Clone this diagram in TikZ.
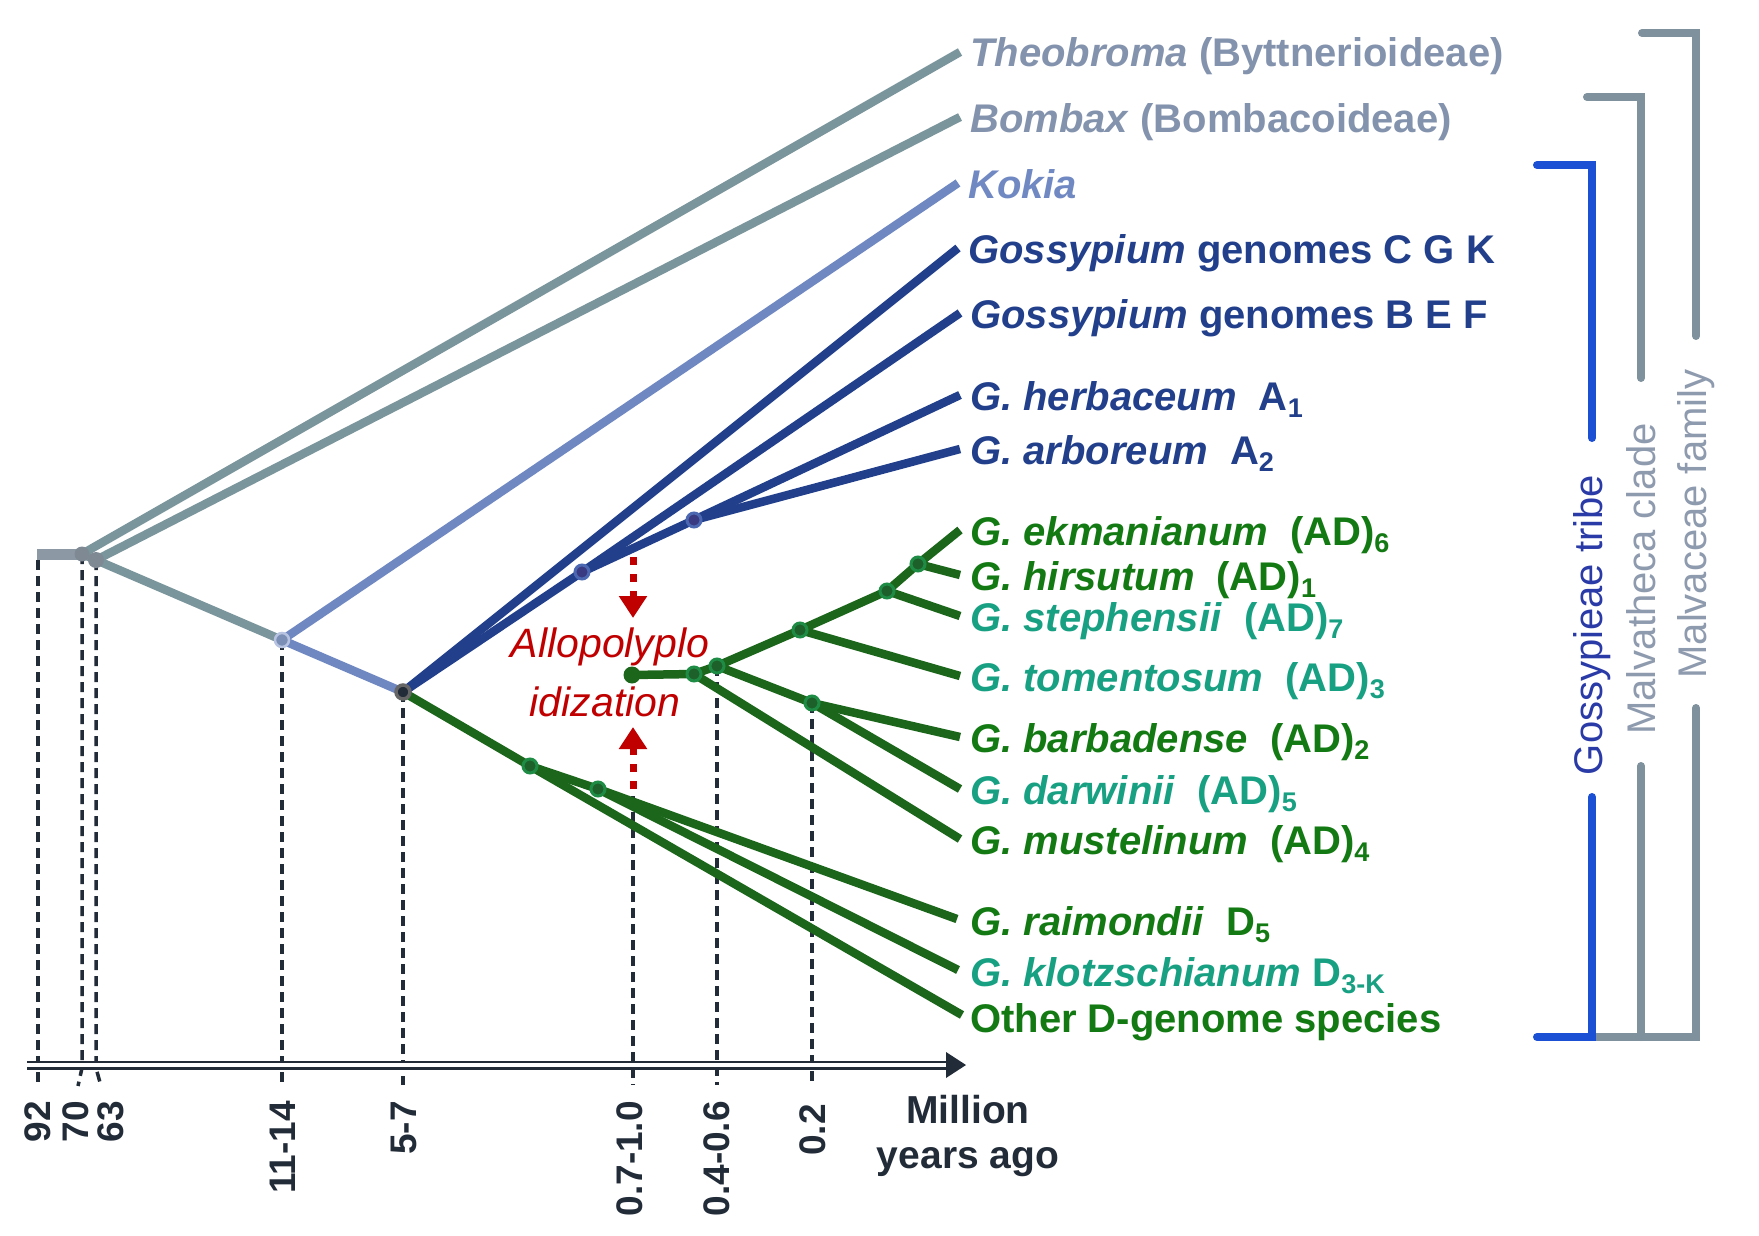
\documentclass[tikz,border=0pt]{standalone}
\usepackage{fontspec}
\setmainfont{Liberation Sans}
\usetikzlibrary{arrows.meta}
\definecolor{cTheoT}{HTML}{8493AD}
\definecolor{cGrayL}{HTML}{7B959C}
\definecolor{cRoot}{HTML}{8C98A4}
\definecolor{cKokL}{HTML}{7088C2}
\definecolor{cKokT}{HTML}{7189C3}
\definecolor{cBlue}{HTML}{213F8B}
\definecolor{cGreenL}{HTML}{1B661B}
\definecolor{cGreenT}{HTML}{137A13}
\definecolor{cTeal}{HTML}{18A083}
\definecolor{cRed}{HTML}{C00000}
\definecolor{cAxis}{HTML}{222B38}
\definecolor{cBrB}{HTML}{1C50D4}
\definecolor{cBrG}{HTML}{7E919D}
\definecolor{cBrT}{HTML}{8E9AAE}
\definecolor{cTribe}{HTML}{2A3BA8}
\definecolor{cBdotF}{HTML}{3A3A82}
\definecolor{cBdotD}{HTML}{4D68B2}
\definecolor{cGdotF}{HTML}{1D602A}
\definecolor{cGdotD}{HTML}{1F8C45}
\newcommand{\sbs}[1]{\raisebox{-0.18em}{\fontsize{27}{27}\selectfont #1}}
\begin{document}
\begin{tikzpicture}[x=1pt,y=-1pt,
  br/.style={line width=8.5pt, line cap=butt},
  lab/.style={anchor=base west, inner sep=0pt, font=\fontsize{40}{48}\selectfont\bfseries},
  tick/.style={rotate=90, anchor=east, inner sep=0pt, font=\fontsize{37}{37}\selectfont\bfseries, text=cAxis},
  brt/.style={rotate=90, inner sep=0pt, font=\fontsize{40}{40}\selectfont},
  vdash/.style={draw=cAxis, line width=3.5pt, dash pattern=on 10pt off 6pt},
  dotG/.style={circle, inner sep=0pt, minimum size=14pt, fill=#1},
  gdot/.style={circle, inner sep=0pt, minimum size=14pt, fill=cGdotF, draw=cGdotD, line width=3pt},
  bdot/.style={circle, inner sep=0pt, minimum size=14pt, fill=cBdotF, draw=cBdotD, line width=3pt},
  brk/.style={line width=8pt, line cap=round, line join=miter},
  redarr/.style={draw=cRed, line width=7pt, dash pattern=on 8pt off 9pt, -{Triangle[width=27pt,length=22pt]}}
]
\useasboundingbox (0,0) rectangle (1759,1236);
\fill[white] (0,0) rectangle (1759,1236);

% ---- internal branch points
\coordinate (r0) at (37,554);
\coordinate (n70) at (82,554);
\coordinate (n63) at (96,560);
\coordinate (n1114) at (282,640);
\coordinate (n57) at (403,692);
\coordinate (b1) at (582,572);
\coordinate (b2) at (694,520);
\coordinate (g1) at (530,766);
\coordinate (g2) at (598,789);
\coordinate (s0) at (632,675);
\coordinate (gA) at (694,674);
\coordinate (gB) at (717,666);
\coordinate (gC) at (800,630);
\coordinate (gD) at (887,591);
\coordinate (gE) at (918,564);
\coordinate (gF) at (812,703);
% ---- leaf tips
\coordinate (tTheo) at (960,52);
\coordinate (tBomb) at (960,117);
\coordinate (tKok) at (958,183);
\coordinate (tCGK) at (958,248);
\coordinate (tBEF) at (960,313);
\coordinate (tHerb) at (960,395);
\coordinate (tArb) at (960,449);
\coordinate (tEkm) at (960,530);
\coordinate (tHir) at (960,575);
\coordinate (tSte) at (960,616);
\coordinate (tTom) at (960,676);
\coordinate (tBar) at (960,737);
\coordinate (tDar) at (960,789);
\coordinate (tMus) at (960,839);
\coordinate (tRai) at (957,919);
\coordinate (tKlo) at (958,970);
\coordinate (tOth) at (962,1015);

% ---- dashed time lines
\coordinate (a92) at (38,1085);
\coordinate (a70) at (78,1086);
\coordinate (a63) at (101,1086);
\coordinate (a1114) at (282,1085);
\coordinate (a57) at (403,1085);
\coordinate (a071) at (633,1085);
\coordinate (a046) at (717,1085);
\coordinate (a02) at (812,1085);
\coordinate (d071) at (633,796);
\draw[vdash] (38,560) -- (a92);
\draw[vdash] (n70) -- (82,1068) -- (a70);
\draw[vdash] (n63) -- (96,1068) -- (a63);
\draw[vdash] (n1114) -- (a1114);
\draw[vdash] (n57) -- (a57);
\draw[vdash] (d071) -- (a071);
\draw[vdash] (gB) -- (a046);
\draw[vdash] (gF) -- (a02);

% ---- axis
\coordinate (ax0) at (27,1065);
\coordinate (ax1) at (950,1065);
\draw[cAxis, line width=2.5pt, double=white, double distance=4pt] (ax0) -- (ax1);
\fill[cAxis] (946,1052) -- (966,1065) -- (946,1078) -- cycle;

% ---- gray / kokia branches
\draw[br, cRoot, line width=11pt] (r0) -- (n70);
\draw[br, cGrayL] (n70) -- (tTheo);
\draw[br, cGrayL] (n70) -- (n63);
\draw[br, cGrayL] (n63) -- (tBomb);
\draw[br, cGrayL] (n63) -- (n1114);
\draw[br, cKokL] (n1114) -- (tKok);
\draw[br, cKokL] (n1114) -- (n57);
% ---- blue branches
\draw[br, cBlue] (n57) -- (tCGK);
\draw[br, cBlue] (n57) -- (b1);
\draw[br, cBlue] (b1) -- (tBEF);
\draw[br, cBlue] (b1) -- (b2);
\draw[br, cBlue] (b2) -- (tHerb);
\draw[br, cBlue] (b2) -- (tArb);
% ---- green branches
\draw[br, cGreenL] (n57) -- (g1);
\draw[br, cGreenL] (g1) -- (tOth);
\draw[br, cGreenL] (g1) -- (g2);
\draw[br, cGreenL] (g2) -- (tRai);
\draw[br, cGreenL] (g2) -- (tKlo);
\draw[br, cGreenL] (s0) -- (gA);
\draw[br, cGreenL] (gA) -- (tMus);
\draw[br, cGreenL] (gA) -- (gB);
\draw[br, cGreenL] (gB) -- (gC);
\draw[br, cGreenL] (gC) -- (tTom);
\draw[br, cGreenL] (gC) -- (gD);
\draw[br, cGreenL] (gD) -- (tSte);
\draw[br, cGreenL] (gD) -- (gE);
\draw[br, cGreenL] (gE) -- (tEkm);
\draw[br, cGreenL] (gE) -- (tHir);
\draw[br, cGreenL] (gB) -- (gF);
\draw[br, cGreenL] (gF) -- (tBar);
\draw[br, cGreenL] (gF) -- (tDar);

% ---- dots
\node[dotG=cRoot!90!black, minimum size=15pt] (D70) at (n70) {};
\node[dotG=cRoot!90!black, minimum size=16pt] (D63) at (n63) {};
\node[circle, inner sep=0pt, minimum size=14pt, fill=cKokL!60!cRoot, draw=cKokL!50!white, line width=2.5pt] (D1114) at (n1114) {};
\node[circle, inner sep=0pt, minimum size=14pt, fill=cAxis, draw=black!60, line width=3.5pt] (D57) at (n57) {};
\node[bdot] (Db1) at (b1) {};
\node[bdot] (Db2) at (b2) {};
\node[gdot] (Dg1) at (g1) {};
\node[gdot] (Dg2) at (g2) {};
\node[dotG=cGreenL, minimum size=17pt] (Ds0) at (s0) {};
\node[gdot] (DgA) at (gA) {};
\node[gdot] (DgB) at (gB) {};
\node[gdot] (DgC) at (gC) {};
\node[gdot] (DgD) at (gD) {};
\node[gdot] (DgE) at (gE) {};
\node[gdot] (DgF) at (gF) {};

% ---- allopolyploidization
\coordinate (ra0) at (633,557);
\coordinate (ra1) at (633,618);
\coordinate (rb0) at (633,789);
\coordinate (rb1) at (633,727);
\draw[redarr] (ra0) -- (ra1);
\draw[redarr] (rb0) -- (rb1);
\node[anchor=base, inner sep=0pt, text=cRed, font=\fontsize{41}{41}\selectfont\itshape] (allo1) at (610,657) {Allopolyplo};
\node[anchor=base, inner sep=0pt, text=cRed, font=\fontsize{41}{41}\selectfont\itshape] (allo2) at (605,716) {idization};

% ---- leaf labels
\node[lab, text=cTheoT] (Ltheo) at (970,67) {\textit{Theobroma} (Byttnerioideae)};
\node[lab, text=cTheoT] (Lbomb) at (970,132) {\textit{Bombax} (Bombacoideae)};
\node[lab, text=cKokT] (Lkok) at (968,198) {\textit{Kokia}};
\node[lab, text=cBlue] (Lcgk) at (968,263) {\textit{Gossypium} genomes C G K};
\node[lab, text=cBlue] (Lbef) at (970,328) {\textit{Gossypium} genomes B E F};
\node[lab, text=cBlue] (Lherb) at (970,410) {\textit{G. herbaceum}\hspace{22pt}A\sbs{1}};
\node[lab, text=cBlue] (Larb) at (970,464) {\textit{G. arboreum}\hspace{22pt}A\sbs{2}};
\node[lab, text=cGreenT] (Lekm) at (970,545) {\textit{G. ekmanianum}\hspace{22pt}(AD)\sbs{6}};
\node[lab, text=cGreenT] (Lhir) at (970,590) {\textit{G. hirsutum}\hspace{22pt}(AD)\sbs{1}};
\node[lab, text=cTeal] (Lste) at (970,631) {\textit{G. stephensii}\hspace{22pt}(AD)\sbs{7}};
\node[lab, text=cTeal] (Ltom) at (970,691) {\textit{G. tomentosum}\hspace{22pt}(AD)\sbs{3}};
\node[lab, text=cGreenT] (Lbar) at (970,752) {\textit{G. barbadense}\hspace{22pt}(AD)\sbs{2}};
\node[lab, text=cTeal] (Ldar) at (970,804) {\textit{G. darwinii}\hspace{22pt}(AD)\sbs{5}};
\node[lab, text=cGreenT] (Lmus) at (970,854) {\textit{G. mustelinum}\hspace{22pt}(AD)\sbs{4}};
\node[lab, text=cGreenT] (Lrai) at (970,935) {\textit{G. raimondii}\hspace{22pt}D\sbs{5}};
\node[lab, text=cTeal] (Lklo) at (970,986) {\textit{G. klotzschianum} D\sbs{3-K}};
\node[lab, text=cGreenT] (Loth) at (970,1032) {Other D-genome species};

% ---- axis labels
\node[tick] (T92) at (38,1101) {92};
\node[tick] (T70) at (76,1101) {70};
\node[tick] (T63) at (111,1101) {63};
\node[tick] (T1114) at (283,1101) {11-14};
\node[tick] (T57) at (404,1101) {5-7};
\node[tick] (T071) at (630,1101) {0.7-1.0};
\node[tick] (T046) at (717,1101) {0.4-0.6};
\node[tick] (T02) at (813,1104) {0.2};
\node[anchor=base, inner sep=0pt, text=cAxis, font=\fontsize{39}{39}\selectfont\bfseries] (mil1) at (968,1123) {Million};
\node[anchor=base, inner sep=0pt, text=cAxis, font=\fontsize{39}{39}\selectfont\bfseries] (mil2) at (968,1168) {years ago};

% ---- brackets
\draw[brk, cBrG] (1642,33) -- (1696,33) -- (1696,336);
\draw[brk, cBrG] (1587,97) -- (1641,97) -- (1641,378);
\draw[brk, cBrG] (1592,1037) -- (1696,1037) -- (1696,708);
\draw[brk, cBrG] (1641,1037) -- (1641,766);
\draw[brk, cBrB] (1537,165) -- (1592,165) -- (1592,438);
\draw[brk, cBrB] (1537,1037) -- (1592,1037) -- (1592,797);
\node[brt, text=cTribe] (Btribe) at (1592,625) {Gossypieae tribe};
\node[brt, text=cBrT] (Bclade) at (1641,579) {Malvatheca clade};
\node[brt, text=cBrT] (Bfam) at (1696,524) {Malvaceae family};
\end{tikzpicture}
\end{document}
